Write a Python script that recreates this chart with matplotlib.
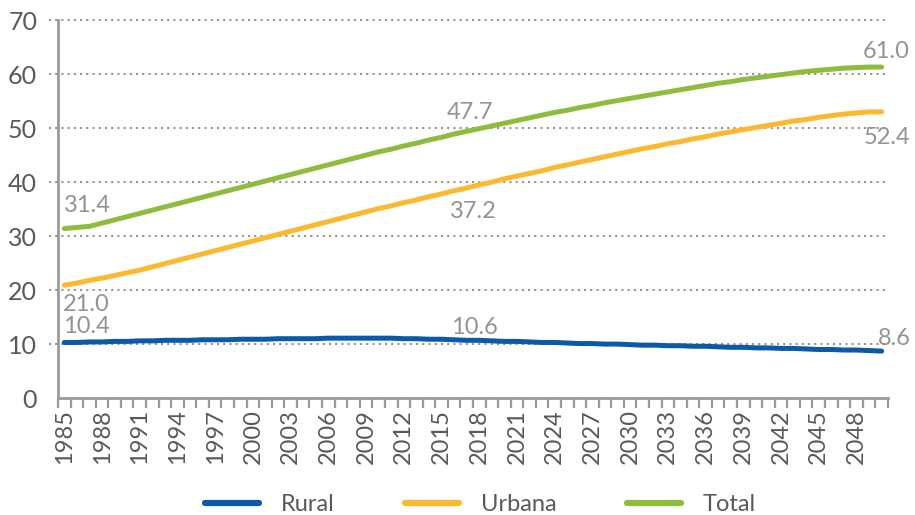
import matplotlib.pyplot as plt
from matplotlib.ticker import MultipleLocator, FixedLocator

plt.rcParams['font.family'] = ['Lato', 'DejaVu Sans']

YEARS = list(range(1985, 2051))

RURAL = [10.3, 10.3, 10.4, 10.4, 10.5, 10.5, 10.6, 10.6, 10.7, 10.7,
         10.7, 10.8, 10.8, 10.8, 10.9, 10.9, 10.9, 11.0, 11.0, 11.0,
         11.0, 11.1, 11.1, 11.1, 11.1, 11.1, 11.1, 11.0, 11.0, 10.9,
         10.9, 10.8, 10.7, 10.7, 10.6, 10.5, 10.5, 10.4, 10.3, 10.3,
         10.2, 10.1, 10.1, 10.0, 10.0, 9.9, 9.8, 9.8, 9.7, 9.7,
         9.6, 9.6, 9.5, 9.4, 9.4, 9.3, 9.3, 9.2, 9.2, 9.1,
         9.0, 9.0, 8.9, 8.9, 8.8, 8.7]

URBANA = [20.9, 21.3, 21.8, 22.2, 22.7, 23.2, 23.7, 24.3, 24.9, 25.5,
          26.1, 26.7, 27.3, 27.9, 28.5, 29.1, 29.7, 30.3, 30.9, 31.5,
          32.1, 32.7, 33.3, 33.9, 34.5, 35.1, 35.6, 36.2, 36.7, 37.3,
          37.8, 38.4, 38.9, 39.5, 40.0, 40.6, 41.1, 41.6, 42.1, 42.7,
          43.2, 43.7, 44.2, 44.7, 45.2, 45.7, 46.2, 46.6, 47.1, 47.5,
          48.0, 48.4, 48.9, 49.3, 49.7, 50.1, 50.5, 50.9, 51.3, 51.6,
          52.0, 52.3, 52.6, 52.8, 53.0, 53.0]

TOTAL = [31.4, 31.6, 31.8, 32.4, 33.0, 33.6, 34.2, 34.8, 35.4, 36.0,
         36.6, 37.2, 37.8, 38.4, 39.0, 39.6, 40.2, 40.8, 41.4, 42.0,
         42.6, 43.2, 43.8, 44.4, 45.0, 45.6, 46.1, 46.7, 47.2, 47.8,
         48.3, 48.9, 49.4, 49.9, 50.4, 50.9, 51.4, 51.9, 52.4, 52.9,
         53.3, 53.8, 54.2, 54.7, 55.1, 55.5, 55.9, 56.3, 56.7, 57.1,
         57.5, 57.9, 58.3, 58.6, 59.0, 59.3, 59.6, 59.9, 60.2, 60.5,
         60.7, 60.9, 61.1, 61.2, 61.3, 61.3]

SERIES = {
    "Rural": RURAL,
    "Urbana": URBANA,
    "Total": TOTAL,
}

COLORS = {
    "Rural": "#0a5aa8",
    "Urbana": "#fbb931",
    "Total": "#8fbc3f",
}

LABEL_COLOR = "#939393"
TICK_COLOR = "#595959"
AXIS_COLOR = "#9a9a9a"

fig = plt.figure(figsize=(9.15, 5.15), dpi=100)
ax = fig.add_axes([0.0634, 0.227, 0.907, 0.734])

for name, values in SERIES.items():
    ax.plot(YEARS, values, color=COLORS[name], linewidth=3.6,
            solid_capstyle='round', solid_joinstyle='round',
            label=name, zorder=3)

ax.set_xlim(YEARS[0] - 0.5, YEARS[-1] + 0.5)
ax.set_ylim(0, 70)

# dotted horizontal guides, sticking out a little left of the axis
for v in range(10, 80, 10):
    ax.plot([-0.011, 1.0], [v, v], transform=ax.get_yaxis_transform(),
            color="#8a8a8a", linestyle=(0, (1, 2.2)), linewidth=1.4,
            clip_on=False, zorder=1)

for side in ["top", "right"]:
    ax.spines[side].set_visible(False)
for side in ["left", "bottom"]:
    ax.spines[side].set_color(AXIS_COLOR)
    ax.spines[side].set_linewidth(2)

ax.yaxis.set_major_locator(MultipleLocator(10))
ax.tick_params(axis='y', length=0, pad=15, labelsize=18, labelcolor=TICK_COLOR)

ax.xaxis.set_major_locator(FixedLocator(YEARS[::3]))
ax.set_xticklabels([str(y) for y in YEARS[::3]], rotation=90)
ax.tick_params(axis='x', which='major', length=0, pad=8, labelsize=17,
               labelcolor=TICK_COLOR)
ax.xaxis.set_minor_locator(FixedLocator([y - 0.5 for y in YEARS] + [YEARS[-1] + 0.5]))
ax.tick_params(axis='x', which='minor', length=7, width=1.6, color=AXIS_COLOR)

# data labels
lab = dict(color=LABEL_COLOR, fontsize=17, va='center')
ax.text(1985.0, 35.7, "31.4", ha='left', **lab)
ax.text(1984.9, 17.4, "21.0", ha='left', **lab)
ax.text(1984.9, 13.3, "10.4", ha='left', **lab)
ax.text(2017.3, 52.8, "47.7", ha='center', **lab)
ax.text(2017.5, 34.6, "37.2", ha='center', **lab)
ax.text(2017.6, 13.1, "10.6", ha='center', **lab)
ax.text(2052.2, 64.1, "61.0", ha='right', clip_on=False, **lab)
ax.text(2052.3, 48.3, "52.4", ha='right', clip_on=False, **lab)
ax.text(2052.3, 11.1, "8.6", ha='right', clip_on=False, **lab)

leg = fig.legend(loc='center', bbox_to_anchor=(0.525, 0.02), ncol=3,
                 frameon=False, fontsize=17, handlelength=2.3,
                 handletextpad=0.9, columnspacing=3.0)
for t in leg.get_texts():
    t.set_color(TICK_COLOR)
for h in leg.get_lines():
    h.set_linewidth(4.5)

fig.savefig("out.png", dpi=100)
